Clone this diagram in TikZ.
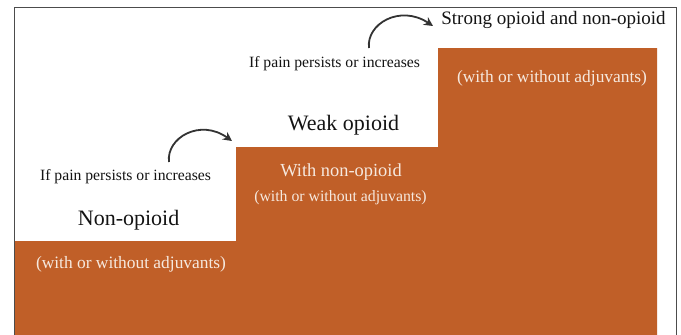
\documentclass[tikz,border=0pt]{standalone}
\usepackage{fontspec}
\setmainfont{Liberation Serif}
\usetikzlibrary{arrows.meta}
\definecolor{stairc}{HTML}{C05F28}
\definecolor{inkc}{HTML}{141414}
\definecolor{lightc}{HTML}{F6E9DF}
\definecolor{arrowc}{HTML}{333333}
\tikzset{
  darktxt/.style={text=inkc, inner sep=0pt, anchor=center},
  lighttxt/.style={text=lightc, inner sep=0pt, anchor=center},
  stepfill/.style={fill=stairc, draw=none},
  curvearrow/.style={draw=arrowc, line width=1.8pt, -{Stealth[length=9pt,width=9pt]}},
}
\newcommand{\fs}[1]{\fontsize{#1}{#1}\selectfont}
\begin{document}
\begin{tikzpicture}[x=1pt,y=-1pt]
\useasboundingbox (0,0) rectangle (681,335);
\fill[white] (0,0) rectangle (681,335);
% frame
\draw[draw=black!70, line width=0.9pt] (14.5,340) -- (14.5,7) -- (676.5,7) -- (676.5,340);
% stairs
\path[stepfill] (15,335) -- (15,241) -- (236,241) -- (236,147) -- (438,147) -- (438,48) -- (657,48) -- (657,335) -- cycle;
% texts
\node[darktxt, font=\fs{19}] (strong) at (553.5,20) {Strong opioid and non-opioid};
\node[lighttxt, font=\fs{17.4}] (adj3) at (552,78) {(with or without adjuvants)};
\node[darktxt, font=\fs{15.7}] (ifp2) at (334.5,63.5) {If pain persists or increases};
\node[darktxt, font=\fs{22}] (weak) at (343.5,125) {Weak opioid};
\node[lighttxt, font=\fs{18.4}] (withnon) at (341,172) {With non-opioid};
\node[lighttxt, font=\fs{15.8}] (adj2) at (340.5,198) {(with or without adjuvants)};
\node[darktxt, font=\fs{15.7}] (ifp1) at (125.5,177) {If pain persists or increases};
\node[darktxt, font=\fs{22}] (nonop) at (128.6,220) {Non-opioid};
\node[lighttxt, font=\fs{17.4}] (adj1) at (131,264) {(with or without adjuvants)};
% arrows
\coordinate (a1s) at (169,162);
\coordinate (a1e) at (232,141);
\coordinate (a2s) at (369,48);
\coordinate (a2e) at (433,26);
\draw[curvearrow] (a1s) .. controls (166,138) and (200,118) .. (a1e);
\draw[curvearrow] (a2s) .. controls (366,24) and (400,4) .. (a2e);
\end{tikzpicture}
\end{document}
